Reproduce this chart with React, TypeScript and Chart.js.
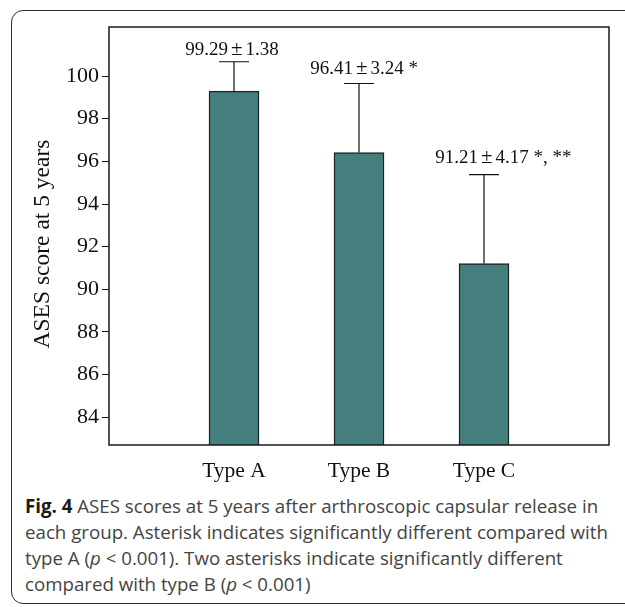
import React, { useEffect, useRef } from "react";
import { Chart, registerables } from "chart.js";

Chart.register(...registerables);

// ---- data ----
const categories = ["", "Type A", "Type B", "Type C", ""];
const means: (number | null)[] = [null, 99.29, 96.41, 91.21, null];
const sds: (number | null)[] = [null, 1.38, 3.24, 4.17, null];
const meanLabels = ["", "99.29", "96.41", "91.21", ""];
const sdLabels = ["", "1.38", "3.24", "4.17", ""];
const sigLabels = ["", "", " *", " *, **", ""];
const yTicks = [84, 86, 88, 90, 92, 94, 96, 98, 100];
const yMin = 82.7;
const yMax = 102.3;
const yTitle = "ASES score at 5 years";

const SERIF = '"Liberation Serif", "Times New Roman", serif';

const annotPlugin = {
  id: "annot",
  afterDatasetsDraw(chart: any) {
    const ctx = chart.ctx;
    const meta = chart.getDatasetMeta(0);
    const yScale = chart.scales.y;
    const gaps = [0, 6, 9, 11, 0];
    ctx.save();
    meta.data.forEach((el: any, i: number) => {
      const m = means[i];
      const s = sds[i];
      if (m == null || s == null) return;
      const x = el.x;
      const yTop = yScale.getPixelForValue(m + s);
      const yBar = yScale.getPixelForValue(m);
      ctx.strokeStyle = "#111";
      ctx.lineWidth = 1.2;
      ctx.beginPath();
      ctx.moveTo(x, yBar);
      ctx.lineTo(x, yTop);
      ctx.moveTo(x - 15, yTop);
      ctx.lineTo(x + 15, yTop);
      ctx.stroke();

      // label
      ctx.font = `19px ${SERIF}`;
      ctx.fillStyle = "#111";
      ctx.textBaseline = "alphabetic";
      ctx.textAlign = "left";
      const a = meanLabels[i];
      const pm = "±";
      const b = sdLabels[i];
      const g = 3;
      const wa = ctx.measureText(a).width;
      const wb = ctx.measureText(b).width;
      ctx.font = `21px ${SERIF}`;
      const wpm = ctx.measureText(pm).width;
      const W = wa + g + wpm + g + wb;
      let sx = x - W / 2 - 2;
      const ty = yTop - gaps[i] - 1;
      ctx.font = `19px ${SERIF}`;
      ctx.fillText(a, sx, ty);
      sx += wa + g;
      ctx.font = `21px ${SERIF}`;
      ctx.fillText(pm, sx, ty);
      sx += wpm + g;
      ctx.font = `19px ${SERIF}`;
      ctx.fillText(b, sx, ty);
      sx += wb;
      if (sigLabels[i]) ctx.fillText(sigLabels[i], sx, ty);
    });
    ctx.restore();
  },
  afterDraw(chart: any) {
    const ctx = chart.ctx;
    const a = chart.chartArea;
    ctx.save();
    ctx.strokeStyle = "#1a1a1a";
    ctx.lineWidth = 1.5;
    ctx.strokeRect(a.left, a.top, a.right - a.left, a.bottom - a.top);
    ctx.translate(43, 244);
    ctx.rotate(-Math.PI / 2);
    ctx.textAlign = "center";
    ctx.textBaseline = "middle";
    ctx.fillStyle = "#111";
    ctx.font = `23.5px ${SERIF}`;
    ctx.fillText(yTitle, 0, 0);
    ctx.restore();
  },
};

function BarChart() {
  const ref = useRef<HTMLCanvasElement | null>(null);
  useEffect(() => {
    if (!ref.current) return;
    const chart = new Chart(ref.current, {
      type: "bar",
      data: {
        labels: categories,
        datasets: [
          {
            data: means as any,
            backgroundColor: "#457F7D",
            borderColor: "#1a2625",
            borderWidth: 1.5,
            barThickness: 50,
          },
        ],
      },
      options: {
        animation: false,
        responsive: false,
        devicePixelRatio: 1,
        layout: { padding: { top: 27, right: 16, left: 0, bottom: 0 } },
        plugins: { legend: { display: false }, tooltip: { enabled: false } },
        scales: {
          x: {
            type: "category",
            offset: false,
            grid: { display: false, drawTicks: false },
            border: { display: false },
            ticks: {
              autoSkip: false,
              maxRotation: 0,
              padding: 13,
              color: "#111",
              font: { family: SERIF, size: 21.5 },
            },
            afterFit: (s: any) => {
              s.height = 45;
            },
          },
          y: {
            min: yMin,
            max: yMax,
            afterBuildTicks: (s: any) => {
              s.ticks = yTicks.map((v) => ({ value: v }));
            },
            grid: {
              drawOnChartArea: false,
              drawTicks: true,
              tickLength: 7,
              color: "#111",
              lineWidth: 1,
            },
            border: { display: false },
            ticks: {
              padding: 3,
              color: "#111",
              font: { family: SERIF, size: 22 },
            },
            afterFit: (s: any) => {
              s.width = 109;
            },
          },
        },
      } as any,
      plugins: [annotPlugin],
    });
    return () => chart.destroy();
  }, []);
  return (
    <canvas
      ref={ref}
      width={625}
      height={490}
      style={{ position: "absolute", left: 0, top: 0, width: 625, height: 490 }}
    />
  );
}

export default function App() {
  return (
    <div
      style={{
        position: "fixed",
        left: 0,
        top: 0,
        width: 625,
        height: 607,
        background: "#fff",
        overflow: "hidden",
      }}
    >
      <div
        style={{
          position: "absolute",
          left: 11,
          top: 10,
          width: 700,
          height: 594,
          border: "1.5px solid #2a2a2a",
          borderRadius: 12,
          boxSizing: "border-box",
        }}
      />
      <BarChart />
      <div
        style={{
          position: "absolute",
          left: 25,
          top: 493,
          whiteSpace: "nowrap",
          fontFamily: '"Open Sans", sans-serif',
          fontSize: 18.7,
          lineHeight: "26px",
          color: "#444",
        }}
      >
        <b style={{ color: "#1a1a1a" }}>Fig. 4</b> ASES scores at 5 years after arthroscopic capsular release in
        <br />
        each group. Asterisk indicates significantly different compared with
        <br />
        type A (<i>p</i> &lt; 0.001). Two asterisks indicate significantly different
        <br />
        compared with type B (<i>p</i> &lt; 0.001)
      </div>
    </div>
  );
}
